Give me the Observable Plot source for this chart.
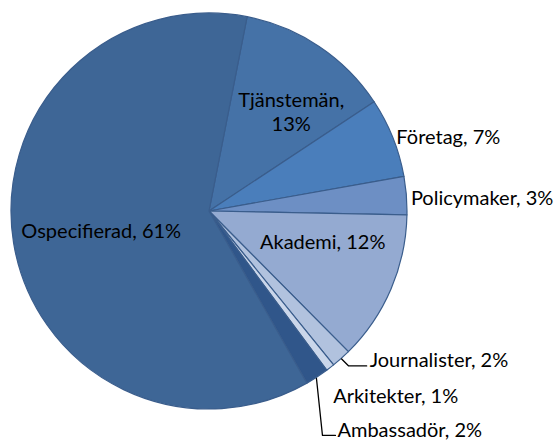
<!DOCTYPE html>
<html>
<head>
<meta charset="utf-8">
<script src="https://cdn.jsdelivr.net/npm/d3@7"></script>
<script src="https://cdn.jsdelivr.net/npm/@observablehq/plot@0.6"></script>
<style>
  html, body { margin: 0; padding: 0; background: #fff; }
</style>
</head>
<body>
<div id="chart"></div>
<script>
// ---- data ----
const categories = ["Tjänstemän", "Företag", "Policymaker", "Akademi", "Journalister", "Arkitekter", "Ambassadör", "Ospecifierad"];
const shares = [12.6, 6.5, 3.1, 12.25, 1.6, 0.7, 1.9, 61.25];

// ---- styles / layout (not data) ----
const palette = ["#4572a7", "#4a7ebb", "#6d8fc4", "#94aad1", "#b1c2de", "#cad6ea", "#30568a", "#3e6696"];
const firstSliceAngle = 11.1; // degrees clockwise from 12 o'clock
// label layout: radius factor, dx, dy, anchor
const labelLayout = {
  "Tjänstemän":   {k: 0.66, dx: 9,  dy: 8,  anchor: "middle"},
  "Företag":      {k: 1.0,  dx: 3,  dy: -2, anchor: "start"},
  "Policymaker":  {k: 1.0,  dx: 4,  dy: 1,  anchor: "start"},
  "Akademi":      {k: 0.6,  dx: 4,  dy: -17, anchor: "middle"},
  "Journalister": {k: 1.0,  dx: 28, dy: 0,  anchor: "start"},
  "Arkitekter":   {k: 1.0,  dx: 2.5, dy: 27, anchor: "start"},
  "Ambassadör":   {k: 1.0,  dx: 20, dy: 52, anchor: "start"},
  "Ospecifierad": {k: 0.6,  dx: 9,  dy: 0,  anchor: "middle"}
};
// leader lines: pixel offsets from the slice edge point
const leaderLayout = {
  "Journalister": [[0, 0], [7, 7], [25, 7]],
  "Ambassadör":   [[-1, 1], [5, 58], [18, 58]]
};

const R = 198, CX = 209, CY = 211;

const table = categories.map((name, i) => ({name, value: shares[i]}));
const total = d3.sum(shares);
const start = firstSliceAngle * Math.PI / 180;
const arcs = d3.pie().sort(null).value(d => d.value).startAngle(start).endAngle(start + 2 * Math.PI)(table);
const slices = arcs.map(a => ({
  name: a.data.name,
  value: a.data.value,
  a0: a.startAngle,
  a1: a.endAngle,
  mid: (a.startAngle + a.endAngle) / 2,
  pct: Math.round(a.data.value / total * 100)
}));

const labels = slices.map(s => {
  const L = labelLayout[s.name];
  const sep = s.name === "Tjänstemän" ? ",\n" : ", ";
  return {
    name: s.name,
    text: `${s.name}${sep}${s.pct}%`,
    x: L.k * Math.sin(s.mid),
    y: L.k * Math.cos(s.mid),
    dx: L.dx, dy: L.dy, anchor: L.anchor
  };
});

const leaders = [];
for (const s of slices) {
  const pts = leaderLayout[s.name];
  if (!pts) continue;
  const ex = Math.sin(s.mid), ey = Math.cos(s.mid);
  pts.forEach(([px, py], j) => leaders.push({name: s.name, order: j, x: ex + px / R, y: ey - py / R}));
}

const textMark = (anchor) => Plot.text(labels.filter(d => d.anchor === anchor), {
  x: "x", y: "y", text: "text",
  textAnchor: anchor,
  lineAnchor: "middle",
  lineHeight: 1.2,
  fill: "#000",
  fontSize: 20,
  render(index, scales, values, dimensions, context, next) {
    const g = next(index, scales, values, dimensions, context);
    const data = labels.filter(d => d.anchor === anchor);
    d3.select(g).selectAll("text").each(function(_, j) {
      const d = data[index[j]];
      const t = d3.select(this);
      const tr = t.attr("transform") || "";
      t.attr("transform", `${tr} translate(${d.dx},${d.dy})`);
    });
    return g;
  }
});

const chart = Plot.plot({
  width: 554,
  height: 440,
  margin: 0,
  style: {fontFamily: "Lato, sans-serif", background: "#fff"},
  x: {domain: [-1, 1], range: [CX - R, CX + R], axis: null},
  y: {domain: [-1, 1], range: [CY + R, CY - R], axis: null},
  color: {type: "ordinal", domain: categories, range: palette},
  marks: [
    Plot.dot(slices, {
      x: () => 0, y: () => 0, fill: "name",
      render(index, scales, values) {
        const cx = scales.x(0), cy = scales.y(0), r = scales.x(1) - scales.x(0);
        const arc = d3.arc().innerRadius(0).outerRadius(r);
        const g = d3.create("svg:g").attr("transform", `translate(${cx},${cy})`);
        for (const i of index) {
          g.append("path")
            .attr("d", arc({startAngle: slices[i].a0, endAngle: slices[i].a1}))
            .attr("fill", values.fill[i])
            .attr("stroke", "#3a5d8c")
            .attr("stroke-width", 1.2)
            .attr("stroke-linejoin", "round");
        }
        return g.node();
      }
    }),
    Plot.line(leaders, {x: "x", y: "y", z: "name", stroke: "#000", strokeWidth: 1.3}),
    textMark("middle"),
    textMark("start")
  ]
});

document.getElementById("chart").appendChild(chart);
</script>
</body>
</html>
